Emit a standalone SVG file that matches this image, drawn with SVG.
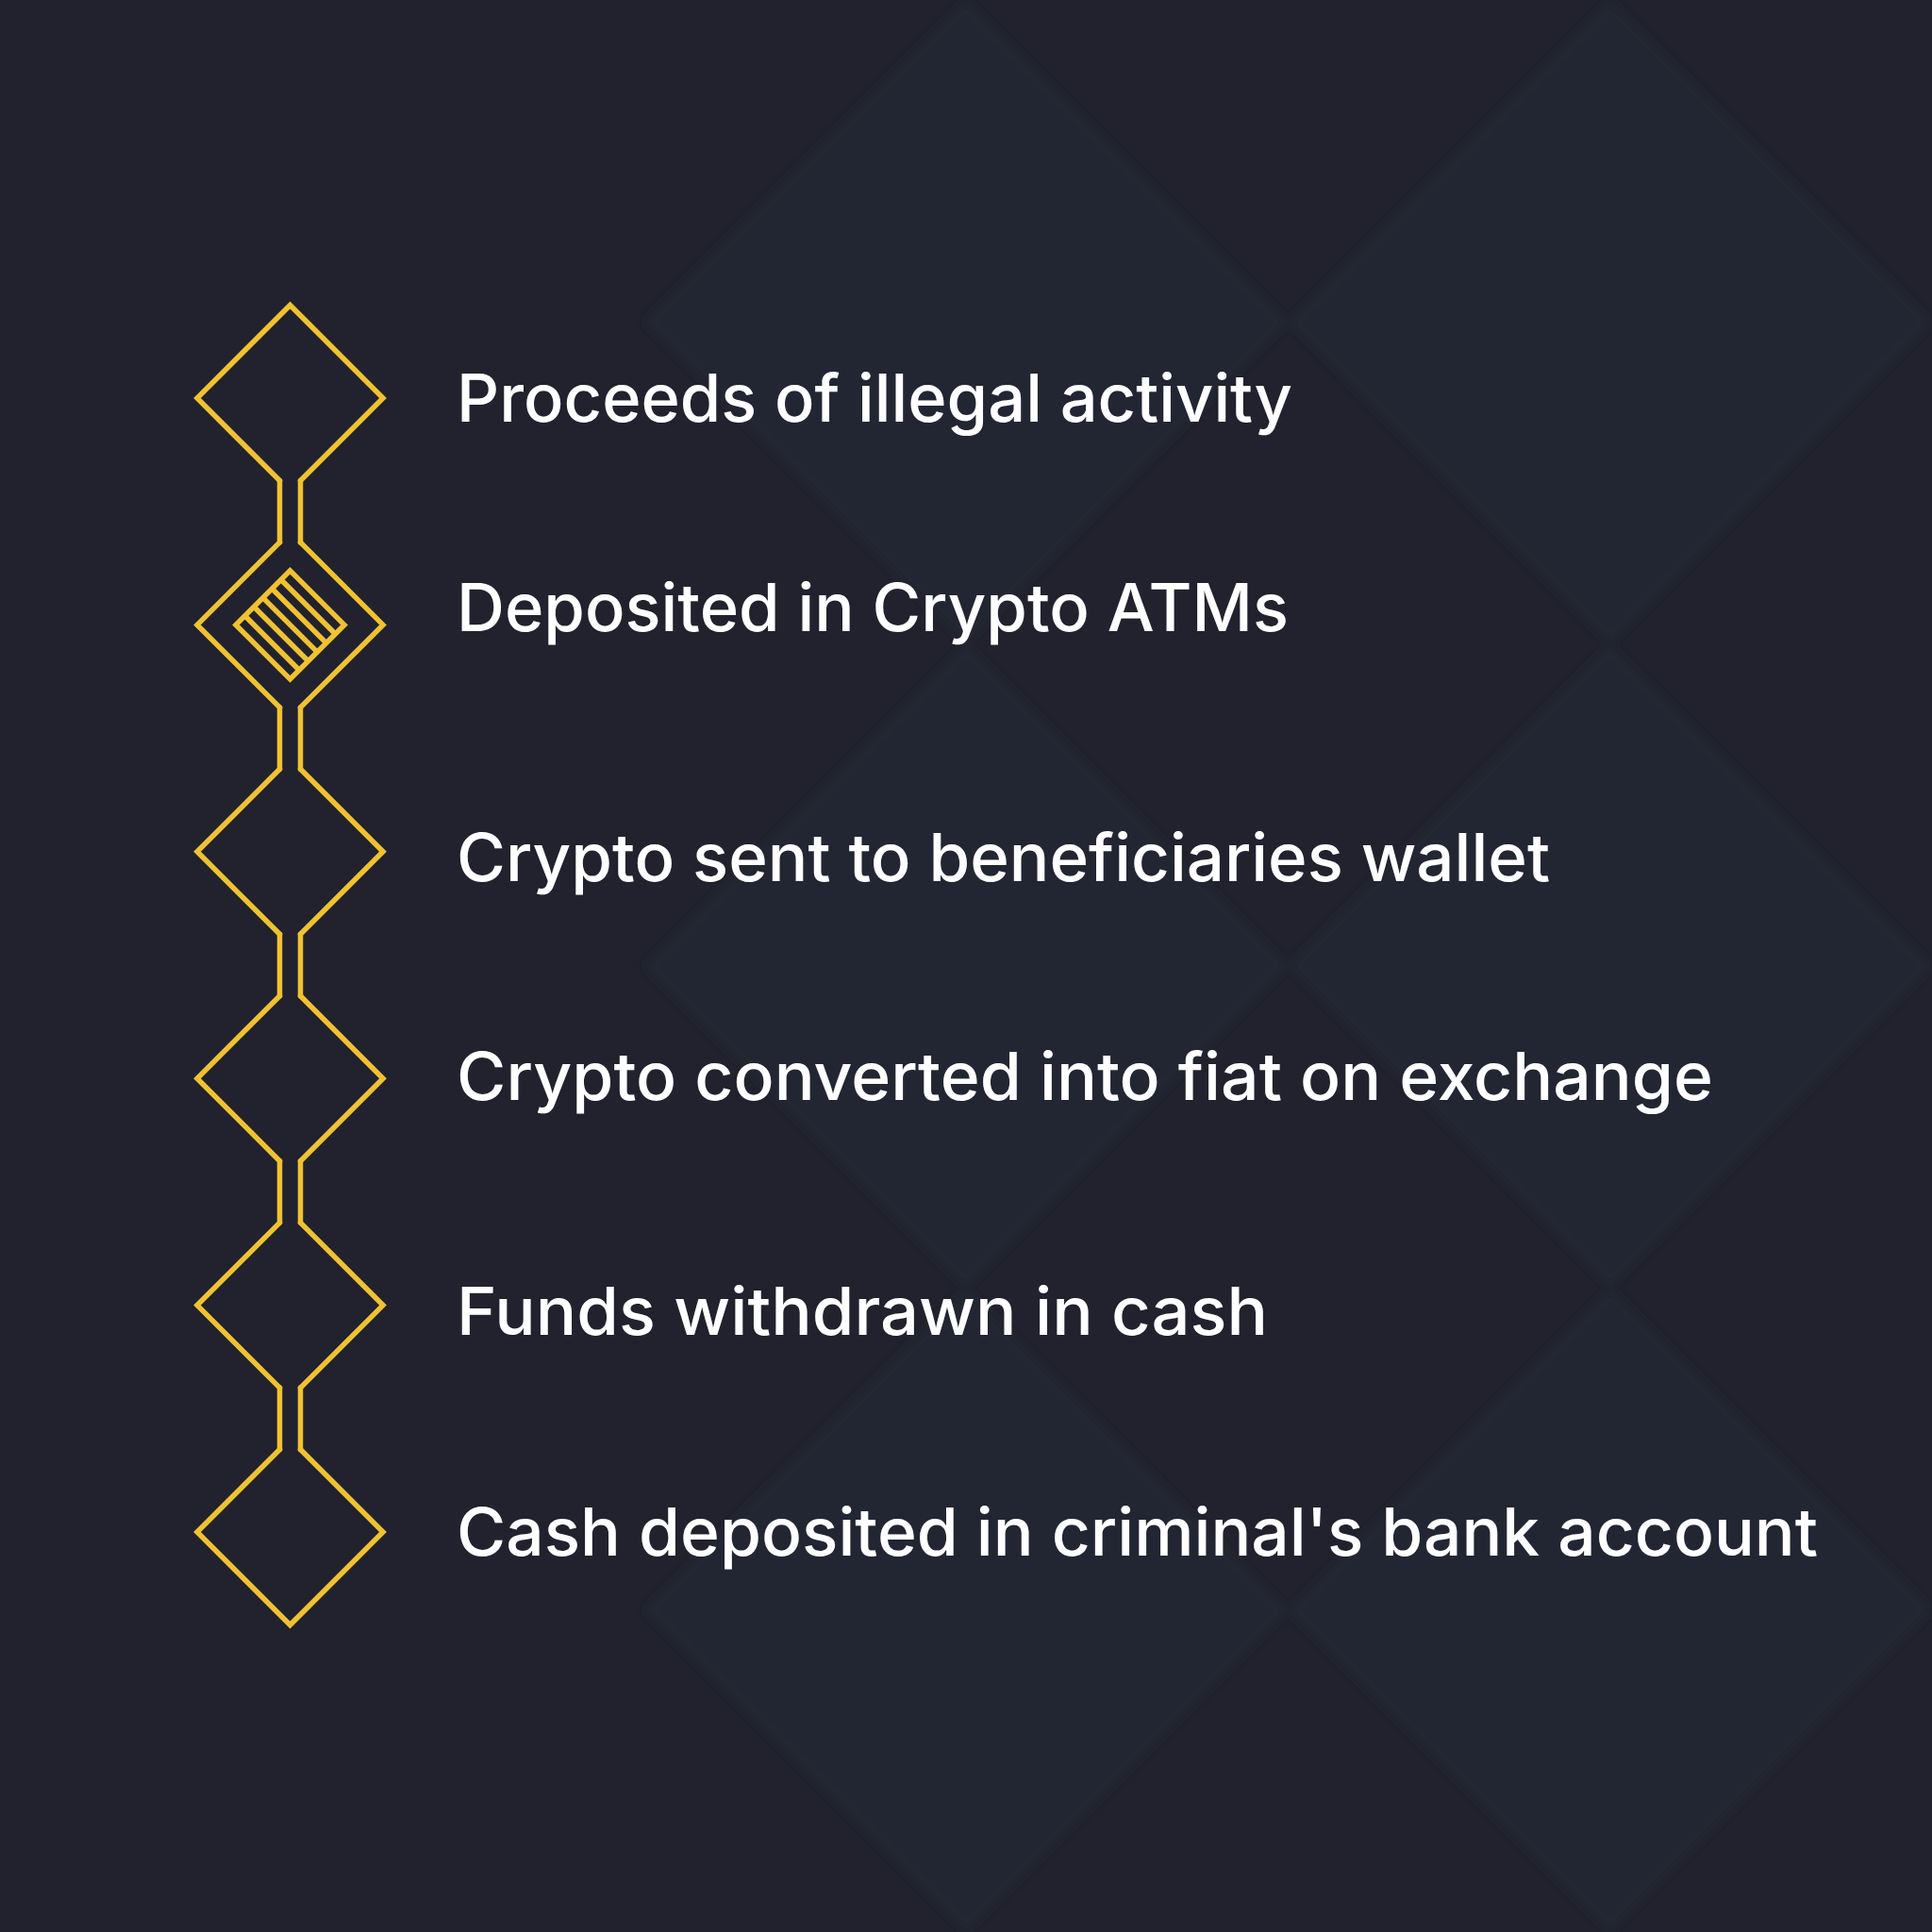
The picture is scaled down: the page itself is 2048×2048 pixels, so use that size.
<svg xmlns="http://www.w3.org/2000/svg" width="2048" height="2048" viewBox="0 0 2048 2048">
  <defs>
    <style>
      .tile { fill: #242833; }
      .gold { fill: none; stroke: #F0C232; stroke-width: 5.5; stroke-linejoin: miter; stroke-linecap: round; }
      .label { font-family: "Inter", "Noto Sans", "Liberation Sans", sans-serif; font-weight: 500; font-size: 70px; fill: #FFFFFF; }
    </style>
    <filter id="soft" x="-5%" y="-5%" width="110%" height="110%">
      <feGaussianBlur stdDeviation="5"/>
    </filter>
  </defs>

  <g id="background">
    <rect x="0" y="0" width="2048" height="2048" fill="#21222D"/>
    <g filter="url(#soft)">
      <path class="tile" d="M1024 0 L1365.3 341.3 L1024 682.7 L682.7 341.3 Z"/>
      <path class="tile" d="M1024 682.7 L1365.3 1024 L1024 1365.3 L682.7 1024 Z"/>
      <path class="tile" d="M1024 1365.3 L1365.3 1706.7 L1024 2048 L682.7 1706.7 Z"/>
      <path class="tile" d="M1706.7 0 L2048 341.3 L1706.7 682.7 L1365.3 341.3 Z"/>
      <path class="tile" d="M1706.7 682.7 L2048 1024 L1706.7 1365.3 L1365.3 1024 Z"/>
      <path class="tile" d="M1706.7 1365.3 L2048 1706.7 L1706.7 2048 L1365.3 1706.7 Z"/>
    </g>
  </g>

  <g id="connectors">
    <path class="gold" d="M296.5 509.5 V574.9 M318.5 509.5 V574.9"/>
    <path class="gold" d="M296.5 749.9 V815.3 M318.5 749.9 V815.3"/>
    <path class="gold" d="M296.5 990.3 V1055.7 M318.5 990.3 V1055.7"/>
    <path class="gold" d="M296.5 1230.7 V1296.1 M318.5 1230.7 V1296.1"/>
    <path class="gold" d="M296.5 1471.1 V1536.5 M318.5 1471.1 V1536.5"/>
  </g>

  <g id="node1">
    <path class="gold" d="M296.5 509.5 L209 422 L307.5 323.5 L406 422 L318.5 509.5"/>
    <text class="label" x="484" y="447" textLength="886" lengthAdjust="spacingAndGlyphs">Proceeds of illegal activity</text>
  </g>

  <g id="node2">
    <path class="gold" d="M296.5 574.9 L209 662.4 L296.5 749.9 M318.5 574.9 L406 662.4 L318.5 749.9"/>
    <path class="gold" d="M307.5 604.9 L365 662.4 L307.5 719.9 L250 662.4 Z"/>
    <g transform="translate(307.5 662.4) rotate(45)">
      <path class="gold" d="M-40.66 -27.1 H40.66 M-40.66 -13.55 H40.66 M-40.66 0 H40.66 M-40.66 13.55 H40.66 M-40.66 27.1 H40.66" style="stroke-linecap:butt"/>
    </g>
    <text class="label" x="484" y="669" textLength="882" lengthAdjust="spacingAndGlyphs">Deposited in Crypto ATMs</text>
  </g>

  <g id="node3">
    <path class="gold" d="M296.5 815.3 L209 902.8 L296.5 990.3 M318.5 815.3 L406 902.8 L318.5 990.3"/>
    <text class="label" x="484" y="934" textLength="1159" lengthAdjust="spacingAndGlyphs">Crypto sent to beneficiaries wallet</text>
  </g>

  <g id="node4">
    <path class="gold" d="M296.5 1055.7 L209 1143.2 L296.5 1230.7 M318.5 1055.7 L406 1143.2 L318.5 1230.7"/>
    <text class="label" x="484" y="1166" textLength="1332" lengthAdjust="spacingAndGlyphs">Crypto converted into fiat on exchange</text>
  </g>

  <g id="node5">
    <path class="gold" d="M296.5 1296.1 L209 1383.6 L296.5 1471.1 M318.5 1296.1 L406 1383.6 L318.5 1471.1"/>
    <text class="label" x="484" y="1415" textLength="860" lengthAdjust="spacingAndGlyphs">Funds withdrawn in cash</text>
  </g>

  <g id="node6">
    <path class="gold" d="M296.5 1536.5 L209 1624 L307.5 1722.5 L406 1624 L318.5 1536.5"/>
    <text class="label" x="484" y="1649" textLength="1443" lengthAdjust="spacingAndGlyphs">Cash deposited in criminal's bank account</text>
  </g>
</svg>
